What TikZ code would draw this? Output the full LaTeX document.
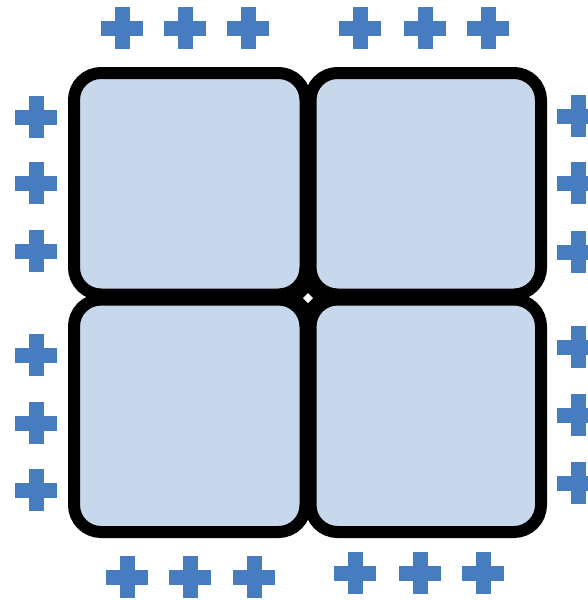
\documentclass[tikz,border=0pt]{standalone}
\usetikzlibrary{calc}
\definecolor{cellfill}{RGB}{200,216,236}
\definecolor{plusblue}{RGB}{72,124,192}
\tikzset{
  x=1pt, y=-1pt,
  cell/.style={draw=black, line width=12pt, fill=cellfill, rounded corners=27pt,
    inner sep=0pt, outer sep=0pt, rectangle},
  plussign/.pic={
    \fill[plusblue] (-21,-7.5) rectangle (21,7.5);
    \fill[plusblue] (-7.5,-21) rectangle (7.5,21);
  }
}
\begin{document}
\begin{tikzpicture}
\useasboundingbox (0,0) rectangle (587,600);
\fill[white] (0,0) rectangle (587,600);
% cells
\node[cell, minimum width=231.5pt, minimum height=221.5pt] (tl) at (189.75,183.75) {};
\node[cell, minimum width=230.5pt, minimum height=221.5pt] (tr) at (425.75,183.75) {};
\node[cell, minimum width=231.5pt, minimum height=232.5pt] (bl) at (189.75,415.75) {};
\node[cell, minimum width=230.5pt, minimum height=232.5pt] (br) at (425.75,415.75) {};
% junction
\coordinate (mid) at (308,298);
\fill[black] (mid) circle[radius=17pt];
\fill[white] ($(mid)+(0,-5)$) -- ($(mid)+(5,0)$) -- ($(mid)+(0,5)$) -- ($(mid)+(-5,0)$) -- cycle;
% top pluses
\foreach \x in {122,185,248,360,425,488} \pic at (\x,28) {plussign};
% bottom pluses
\foreach \x in {127,190,254} \pic at (\x,577) {plussign};
\foreach \x in {355,420,483} \pic at (\x,573) {plussign};
% left pluses
\foreach \y in {117,183,251,355,423,490} \pic at (36,\y) {plussign};
% right pluses
\foreach \y in {116,183,252,347,415,483} \pic at (578,\y) {plussign};
\end{tikzpicture}
\end{document}
